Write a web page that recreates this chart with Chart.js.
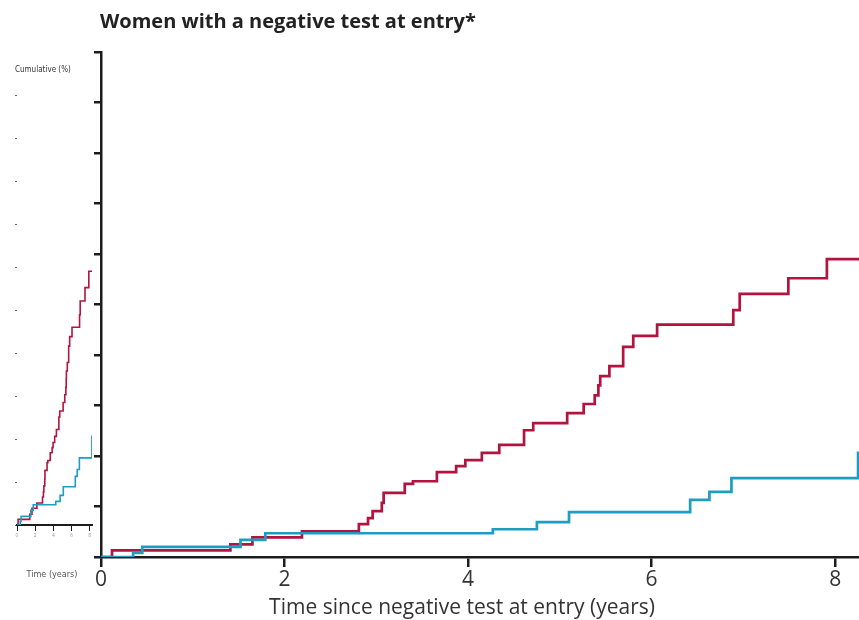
<!DOCTYPE html>
<html>
<head>
<meta charset="utf-8">
<script src="https://cdn.jsdelivr.net/npm/chart.js@4.4.1/dist/chart.umd.min.js"></script>
<style>
    body { margin: 0; background: #fff; }
    #wrap { position: relative; width: 859px; height: 620px; }
    #mainChart { position: absolute; left: 0; top: 0; }
    #thumbChart { position: absolute; left: 0; top: 0; }
</style>
</head>
<body>
<div id="wrap">
    <canvas id="mainChart" width="859" height="620"></canvas>
    <canvas id="thumbChart" width="95" height="620"></canvas>
</div>
<script>
// cumulative incidence (%) by years since the negative test at entry
const crimsonYears = [0, 0.12, 1.41, 1.65, 2.19, 2.81, 2.91, 2.96, 3.06, 3.08, 3.31, 3.40, 3.66, 3.87, 3.97, 4.15,
    4.34, 4.61, 4.71, 5.08, 5.26, 5.38, 5.42, 5.44, 5.54, 5.69, 5.80, 6.06, 6.89, 6.96, 7.49, 7.91, 8.26];
const crimsonPct = [0, 0.13, 0.25, 0.39, 0.51, 0.65, 0.77, 0.91, 1.07, 1.27, 1.45, 1.50, 1.68, 1.80, 1.92, 2.06,
    2.22, 2.51, 2.65, 2.85, 3.03, 3.20, 3.40, 3.58, 3.78, 4.16, 4.38, 4.60, 4.89, 5.21, 5.52, 5.90, 5.90];

const tealYears = [0, 0.35, 0.45, 1.52, 1.79, 4.27, 4.75, 5.10, 6.42, 6.63, 6.87, 8.25, 8.26];
const tealPct = [0, 0.08, 0.20, 0.34, 0.47, 0.55, 0.69, 0.89, 1.13, 1.29, 1.56, 2.06, 2.06];

const xTicks = [0, 2, 4, 6, 8];
const yTicks = [0, 1, 2, 3, 4, 5, 6, 7, 8, 9, 10];

const panelTitle = "Women with a negative test at entry*";
const xTitle = "Time since negative test at entry (years)";

const crimson = "#b3143f";
const teal = "#1e9dc1";
const ink = "#1c1c1c";

function toPoints(xs, ys) {
    return xs.map((x, i) => ({ x: x, y: ys[i] }));
}

// plain text drawn onto the canvas at fixed spots
const captions = {
    id: "captions",
    afterDraw(chart, args, opts) {
        const ctx = chart.ctx;
        ctx.save();
        opts.items.forEach(item => {
            ctx.font = item.font;
            ctx.fillStyle = item.color;
            ctx.textAlign = item.align;
            ctx.textBaseline = "alphabetic";
            ctx.fillText(item.text, item.x, item.y);
        });
        ctx.restore();
    }
};

function stepSet(xs, ys, color, width) {
    return {
        data: toPoints(xs, ys),
        borderColor: color,
        borderWidth: width,
        stepped: true,
        pointRadius: 0,
        fill: false
    };
}

new Chart(document.getElementById("mainChart"), {
    type: "line",
    data: {
        datasets: [
            stepSet(tealYears, tealPct, teal, 2.7),
            stepSet(crimsonYears, crimsonPct, crimson, 2.7)
        ]
    },
    options: {
        responsive: false,
        animation: false,
        layout: { padding: { top: 52, right: 0, left: 0, bottom: 0 } },
        scales: {
            x: {
                type: "linear",
                min: 0,
                max: 8.26,
                afterFit: s => { s.height = 63; },
                afterBuildTicks: s => { s.ticks = xTicks.map(v => ({ value: v })); },
                grid: { drawOnChartArea: false, drawTicks: true, tickLength: 10, color: ink, lineWidth: 2.5 },
                border: { display: true, color: ink, width: 2.5 },
                ticks: {
                    color: "#333",
                    padding: 0,
                    font: { family: "Open Sans", size: 21 }
                }
            },
            y: {
                min: 0,
                max: 10,
                afterFit: s => { s.width = 101; },
                afterBuildTicks: s => { s.ticks = yTicks.map(v => ({ value: v })); },
                grid: { drawOnChartArea: false, drawTicks: true, tickLength: 7, color: ink, lineWidth: 2.5 },
                border: { display: true, color: ink, width: 2.5 },
                ticks: { display: false }
            }
        },
        plugins: {
            legend: { display: false },
            tooltip: { enabled: false },
            captions: {
                items: [
                    { text: panelTitle, x: 100, y: 28, align: "left", color: "#222", font: "bold 20px 'Open Sans'" },
                    { text: xTitle, x: 462, y: 614, align: "center", color: "#333", font: "21px 'Open Sans'" }
                ]
            }
        }
    },
    plugins: [captions]
});

// small squeezed copy of the same curves on the left margin
new Chart(document.getElementById("thumbChart"), {
    type: "line",
    data: {
        datasets: [
            stepSet(tealYears, tealPct, teal, 1.6),
            stepSet(crimsonYears, crimsonPct, crimson, 1.6)
        ]
    },
    options: {
        responsive: false,
        animation: false,
        layout: { padding: { top: 95, right: 3, left: 0, bottom: 0 } },
        scales: {
            x: {
                type: "linear",
                min: 0,
                max: 8.26,
                afterFit: s => { s.height = 95; },
                afterBuildTicks: s => { s.ticks = xTicks.map(v => ({ value: v })); },
                grid: { drawOnChartArea: false, drawTicks: true, tickLength: 6, color: ink, lineWidth: 1 },
                border: { display: true, color: ink, width: 2 },
                ticks: { color: "#999", padding: 2, font: { family: "Open Sans", size: 5 } }
            },
            y: {
                min: 0,
                max: 10,
                afterFit: s => { s.width = 17; },
                afterBuildTicks: s => { s.ticks = yTicks.map(v => ({ value: v })); },
                grid: { drawOnChartArea: false, drawTicks: true, tickLength: 2, color: "#666", lineWidth: 1 },
                border: { display: false },
                ticks: { display: false }
            }
        },
        plugins: {
            legend: { display: false },
            tooltip: { enabled: false },
            captions: {
                items: [
                    { text: "Cumulative (%)", x: 15, y: 72, align: "left", color: "#333", font: "8px 'Liberation Sans Narrow', 'DejaVu Sans Condensed', sans-serif" },
                    { text: "Time (years)", x: 52, y: 577, align: "center", color: "#555", font: "9px 'Liberation Sans Narrow', 'DejaVu Sans Condensed', sans-serif" }
                ]
            }
        }
    },
    plugins: [captions]
});
</script>
</body>
</html>
